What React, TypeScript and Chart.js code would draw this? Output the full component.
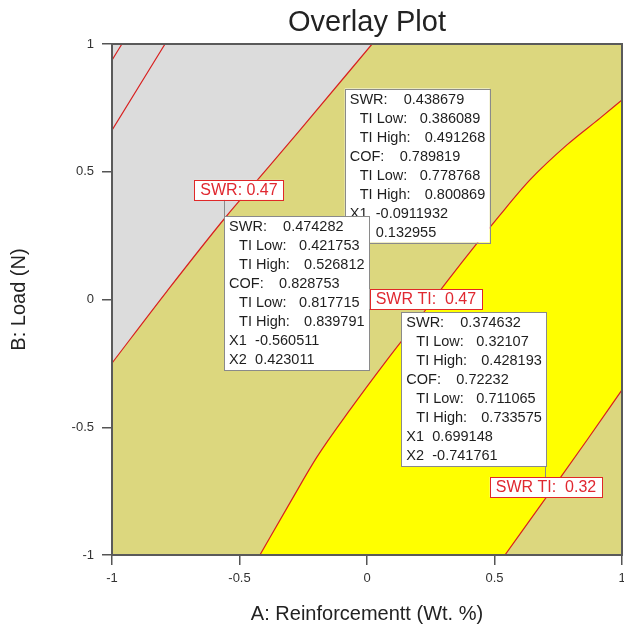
import React, { useEffect, useRef } from 'react';
import { Chart, registerables } from 'chart.js';

Chart.register(...registerables);

// ---------- data ----------
const axisMin = -1;
const axisMax = 1;
const axisStep = 0.5;
const tickValues = [-1, -0.5, 0, 0.5, 1];
const tickLabels = ['-1', '-0.5', '0', '0.5', '1'];

// contour SWR = 0.47 (boundary of the grey region)
const swr047X = [-1, -0.784, -0.557, -0.42, -0.263, 0.02];
const swr047Y = [-0.249, 0.033, 0.319, 0.479, 0.663, 1];

// contour SWR TI = 0.47 (boundary of the yellow region, upper-left side)
const swrTI047X = [-0.42, -0.3, -0.196, -0.067, 0.078, 0.2, 0.318, 0.522, 0.639, 0.784, 0.914, 1];
const swrTI047Y = [-1, -0.792, -0.616, -0.432, -0.237, -0.08, 0.076, 0.331, 0.468, 0.605, 0.71, 0.781];

// contour SWR TI = 0.32 (boundary of the yellow region, lower-right side)
const swrTI032X = [0.541, 0.757, 0.863, 1];
const swrTI032Y = [-1, -0.699, -0.55, -0.354];

// two short contours in the grey corner
const cornerAX = [-1, -0.961];
const cornerAY = [0.937, 1];
const cornerBX = [-1, -0.792];
const cornerBY = [0.663, 1];

// contour labels
const contourLabelText = ['SWR: 0.47', 'SWR TI:  0.47', 'SWR TI:  0.32'];
const contourLabelX = [-0.502, 0.231, 0.702];
const contourLabelY = [0.429, 0.002, -0.734];

// flag rows
const flagRowNames = ['SWR:', 'TI Low:', 'TI High:', 'COF:', 'TI Low:', 'TI High:', 'X1', 'X2'];
const flagRowIndent = [0, 1, 1, 0, 1, 1, 0, 0];
const flagA = ['0.438679', '0.386089', '0.491268', '0.789819', '0.778768', '0.800869', '-0.0911932', '0.132955'];
const flagB = ['0.474282', '0.421753', '0.526812', '0.828753', '0.817715', '0.839791', '-0.560511', '0.423011'];
const flagC = ['0.374632', '0.32107', '0.428193', '0.72232', '0.711065', '0.733575', '0.699148', '-0.741761'];

// ---------- style ----------
const OLIVE = '#DCD77E';
const GRAY = '#DCDCDC';
const YELLOW = '#FFFF00';
const RED = '#D82020';
const FONT = '"Liberation Sans", Arial, sans-serif';

const pts = (xs: number[], ys: number[]) => xs.map((x, i) => ({ x, y: ys[i] }));

const valueOffsets = [59, 75, 80, 55, 75, 80, 31, 31];
const ROW_H = 19;
const BOX_W = 145;
const BOX_H = 8 * ROW_H + 2;

function drawFlag(ctx: CanvasRenderingContext2D, chart: any, values: string[], place: string) {
  const xs = chart.scales.x;
  const ys = chart.scales.y;
  const px = xs.getPixelForValue(parseFloat(values[6]));
  const py = ys.getPixelForValue(parseFloat(values[7]));
  const gap = 23;
  let left = px;
  let top = py;
  if (place === 'upRight') { left = px + 1; top = py - gap - BOX_H; }
  if (place === 'downRight') { left = px; top = py + gap + 2; }
  if (place === 'upLeft') { left = px + 1 - BOX_W; top = py - gap - BOX_H; }
  // leader
  ctx.strokeStyle = '#8A8A8A';
  ctx.lineWidth = 1;
  ctx.beginPath();
  const lx = Math.round(px) + 0.5;
  ctx.moveTo(lx, py);
  ctx.lineTo(lx, place === 'downRight' ? top : top + BOX_H);
  ctx.stroke();
  // box
  ctx.fillStyle = '#FFFFFF';
  ctx.fillRect(left, top, BOX_W, BOX_H);
  ctx.strokeStyle = '#8A8A8A';
  ctx.strokeRect(Math.round(left) + 0.5, Math.round(top) + 0.5, BOX_W, BOX_H);
  ctx.fillStyle = '#1E1E1E';
  ctx.font = `14.5px ${FONT}`;
  ctx.textBaseline = 'middle';
  ctx.textAlign = 'left';
  for (let i = 0; i < flagRowNames.length; i++) {
    const y = top + 11 + i * ROW_H;
    ctx.fillText(flagRowNames[i], left + 5 + flagRowIndent[i] * 10, y);
    ctx.fillText(values[i], left + valueOffsets[i], y);
  }
}

const overlayPlugin = {
  id: 'overlayPlot',
  beforeDraw(chart: any) {
    const { ctx, chartArea: a } = chart;
    ctx.save();
    ctx.fillStyle = OLIVE;
    ctx.fillRect(a.left, a.top, a.right - a.left, a.bottom - a.top);
    ctx.restore();
  },
  afterDatasetsDraw(chart: any) {
    const { ctx, chartArea: a } = chart;
    ctx.save();
    // frame
    ctx.strokeStyle = '#5A5A5A';
    ctx.lineWidth = 2;
    ctx.strokeRect(a.left, a.top, a.right - a.left, a.bottom - a.top);
    // flags
    drawFlag(ctx, chart, flagA, 'upRight');
    drawFlag(ctx, chart, flagB, 'downRight');
    drawFlag(ctx, chart, flagC, 'upLeft');
    // contour labels
    ctx.font = `16px ${FONT}`;
    ctx.textBaseline = 'middle';
    ctx.textAlign = 'center';
    for (let i = 0; i < contourLabelText.length; i++) {
      const cx = chart.scales.x.getPixelForValue(contourLabelX[i]);
      const cy = chart.scales.y.getPixelForValue(contourLabelY[i]);
      const w = ctx.measureText(contourLabelText[i]).width + 12;
      const h = 20;
      ctx.fillStyle = '#FFFFFF';
      ctx.fillRect(cx - w / 2, cy - h / 2, w, h);
      ctx.strokeStyle = '#E02828';
      ctx.lineWidth = 1;
      ctx.strokeRect(Math.round(cx - w / 2) + 0.5, Math.round(cy - h / 2) + 0.5, Math.round(w), h);
      ctx.fillStyle = '#E02830';
      ctx.fillText(contourLabelText[i], cx, cy + 1);
    }
    // title
    ctx.fillStyle = '#222222';
    ctx.font = `29px ${FONT}`;
    ctx.textAlign = 'center';
    ctx.textBaseline = 'middle';
    ctx.fillText('Overlay Plot', (a.left + a.right) / 2, 23);
    ctx.restore();
  },
};

const tickCallback = (v: any) => {
  const i = tickValues.findIndex((t) => Math.abs(t - Number(v)) < 1e-9);
  return i >= 0 ? tickLabels[i] : '';
};

export default function App() {
  const ref = useRef<HTMLCanvasElement | null>(null);
  useEffect(() => {
    if (!ref.current) return;
    Chart.defaults.font.family = FONT;
    const lineDs = (label: string, xs: number[], ys: number[], fill: any, bg: string) => ({
      label,
      data: pts(xs, ys),
      fill,
      backgroundColor: bg,
      borderColor: RED,
      borderWidth: 1.2,
      pointRadius: 0,
      cubicInterpolationMode: 'monotone',
    });
    const chart = new Chart(ref.current, {
      type: 'line',
      data: {
        datasets: [
          lineDs('SWR TI 0.32', swrTI032X, swrTI032Y, 'start', OLIVE),
          lineDs('SWR TI 0.47', swrTI047X, swrTI047Y, 'start', YELLOW),
          lineDs('SWR 0.47', swr047X, swr047Y, 'end', GRAY),
          lineDs('corner A', cornerAX, cornerAY, false, 'transparent'),
          lineDs('corner B', cornerBX, cornerBY, false, 'transparent'),
        ] as any,
      },
      options: {
        animation: false,
        responsive: false,
        layout: { autoPadding: false, padding: { top: 44, right: 2, left: 0, bottom: 0 } },
        plugins: {
          legend: { display: false },
          tooltip: { enabled: false },
          title: { display: false },
          filler: { drawTime: 'beforeDatasetsDraw' },
        },
        scales: {
          x: {
            type: 'linear',
            min: axisMin,
            max: axisMax,
            ticks: { stepSize: axisStep, font: { size: 13 }, color: '#333333', padding: 6, maxRotation: 0, callback: tickCallback },
            grid: { drawOnChartArea: false, tickLength: 10, color: '#555555', lineWidth: 1.5 },
            border: { display: false },
            title: {
              display: true,
              text: 'A: Reinforcementt (Wt. %)',
              font: { size: 20 },
              color: '#222222',
              padding: { top: 0, bottom: 4 },
            },
            afterFit: (s: any) => { s.height = 75; s.paddingLeft = 0; s.paddingRight = 0; },
          },
          y: {
            type: 'linear',
            min: axisMin,
            max: axisMax,
            ticks: { stepSize: axisStep, font: { size: 13 }, color: '#333333', padding: 8, callback: tickCallback },
            grid: { drawOnChartArea: false, tickLength: 10, color: '#555555', lineWidth: 1.5 },
            border: { display: false },
            title: {
              display: true,
              text: 'B: Load (N)',
              font: { size: 20 },
              color: '#222222',
              padding: { top: 7, bottom: 0 },
            },
            afterFit: (s: any) => { s.width = 112; s.paddingTop = 0; s.paddingBottom = 0; },
          },
        },
      } as any,
      plugins: [overlayPlugin],
    });
    return () => chart.destroy();
  }, []);
  return (
    <div style={{ position: 'absolute', left: 0, top: 0, width: 624, height: 630, background: '#fff' }}>
      <canvas ref={ref} width={624} height={630} style={{ width: 624, height: 630, display: 'block' }} />
    </div>
  );
}
